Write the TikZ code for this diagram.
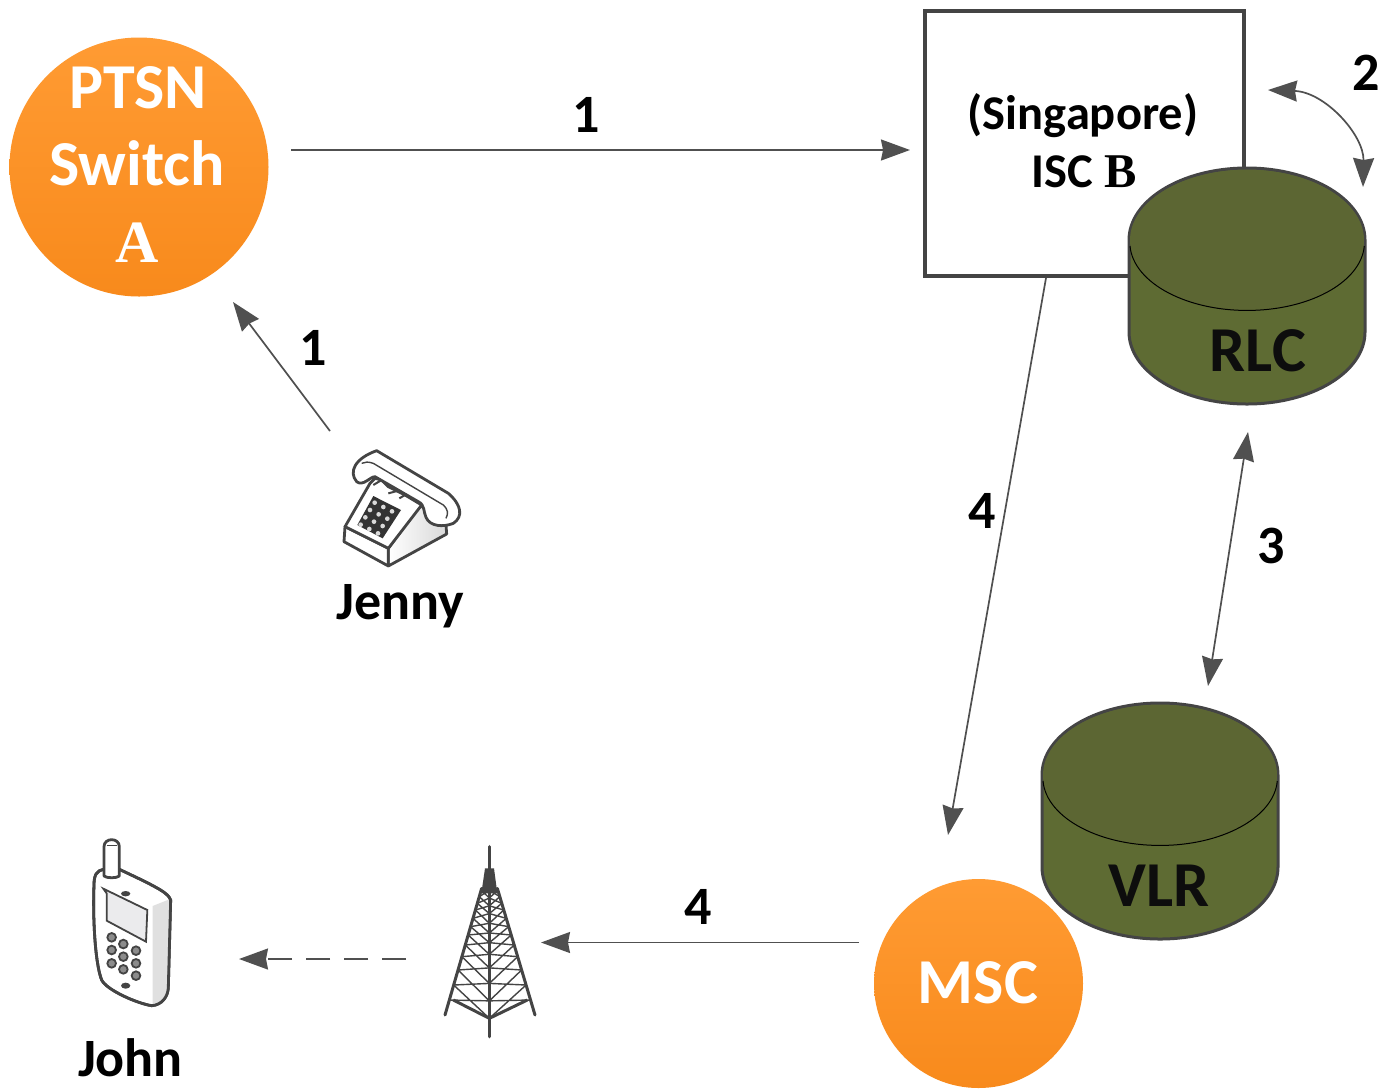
\documentclass[tikz,border=0pt]{standalone}
\usepackage{fontspec}
\setmainfont{Carlito}
\newfontfamily\serifletter{Liberation Serif}
\usetikzlibrary{arrows.meta,calc}
\definecolor{edgegrey}{HTML}{444444}
\definecolor{linegrey}{HTML}{505050}
\definecolor{drumfill}{HTML}{5E6B33}
\definecolor{drumtop}{HTML}{5C6633}
\definecolor{orangeA}{HTML}{FF9B33}
\definecolor{orangeB}{HTML}{F88A1C}
\tikzset{
  bigtext/.style={font=\bfseries\fontsize{64}{70}\selectfont,anchor=base,inner sep=0pt},
  midtext/.style={font=\bfseries\fontsize{48.5}{56}\selectfont,anchor=base,inner sep=0pt},
  nametext/.style={font=\bfseries\fontsize{54}{60}\selectfont,anchor=base,inner sep=0pt},
  numtext/.style={font=\bfseries\fontsize{54}{60}\selectfont,anchor=base,inner sep=0pt},
  hub/.style={circle,draw=none,top color=orangeA,bottom color=orangeB,inner sep=0pt},
  whitetext/.style={text=white},
  conn/.style={draw=linegrey,line width=1.7pt,-{Stealth[length=29pt,width=21pt,inset=2pt]}},
  dconn/.style={draw=linegrey,line width=1.7pt,{Stealth[length=29pt,width=21pt,inset=2pt]}-{Stealth[length=29pt,width=21pt,inset=2pt]}},
  iconline/.style={draw=edgegrey,line width=2.8pt,line join=round},
}
\newcommand{\drumshape}[2]{% centre x, top-ellipse centre y
  \path[fill=drumfill,draw=edgegrey,line width=3pt]
    (#1-118,#2) -- (#1-118,#2+92) arc[start angle=180,end angle=360,x radius=118pt,y radius=72pt]
    -- (#1+118,#2) arc[start angle=0,end angle=180,x radius=118pt,y radius=72pt] -- cycle;
  \path[fill=drumtop] (#1,#2) circle[x radius=117pt,y radius=70pt];
  \draw[black,line width=1pt] (#1-117,#2+6) arc[start angle=183,end angle=357,x radius=117.3pt,y radius=68pt];
}
\begin{document}
\begin{tikzpicture}[x=1pt,y=-1pt]
\useasboundingbox (0,0) rectangle (1383,1088);
\fill[white] (0,0) rectangle (1383,1088);

% ISC box and databases
\node[draw=edgegrey,line width=4.5pt,outer sep=0pt,minimum width=319pt,minimum height=265pt,inner sep=0pt,anchor=north west] (isc) at (925,11) {};
\node[midtext] (sing) at (1083,129) {(Singapore)};
\node[midtext] (iscb) at (1084,187) {ISC {\serifletter B}};
\drumshape{1247}{240}
\node[bigtext,text=black!95] (rlc) at (1258,371) {RLC};
\drumshape{1160}{775}
\node[bigtext,text=black!95] (vlr) at (1159,906) {VLR};

% Orange hubs
\node[hub,minimum size=259pt] (ptsn) at (139,167) {};
\node[bigtext,whitetext] (ptsnA) at (138,108) {PTSN};
\node[bigtext,whitetext] (ptsnB) at (137,185) {Switch};
\node[bigtext,whitetext,font=\bfseries\serifletter\fontsize{60}{60}\selectfont] (ptsnC) at (137,262) {A};
\node[hub,minimum size=209pt] (msc) at (978.5,983.5) {};
\node[bigtext,whitetext] (msct) at (978,1003) {MSC};

% Desk telephone
\begin{scope}[shift={(320pt,-430pt)},scale=1/3]
  \shade[left color=white,right color=black!15,iconline] (205,355) -- (205,408) -- (380,312) -- (378,285) -- (300,225) -- cycle;
  \path[fill=white,iconline] (75,290) -- (72,335) -- (205,408) -- (205,355) -- cycle;
  \path[fill=white,iconline] (75,290) -- (150,160) -- (165,145) -- (185,150) -- (205,170) -- (235,185) -- (255,195) -- (305,225) -- (205,355) -- cycle;
  \path[fill=white,iconline] (110,155) .. controls (85,125) and (105,85) .. (170,62)
     -- (385,190) .. controls (425,225) and (430,260) .. (400,280)
     .. controls (370,292) and (330,290) .. (318,262) .. controls (310,245) and (315,225) .. (295,215)
     -- (165,140) .. controls (150,140) and (130,170) .. (110,155) -- cycle;
  \draw[edgegrey,line width=1.4pt] (125,100) .. controls (135,95) and (145,95) .. (160,100) -- (370,225) .. controls (385,240) and (385,250) .. (378,265);
  \draw[edgegrey,line width=2pt] (160,165) -- (185,150) (205,190) -- (235,182) (238,205) -- (255,195);
  \fill[black!80] (160,198) -- (243,240) -- (188,325) -- (112,285) -- cycle;
  \foreach \i in {0,1,2} \foreach \j in {0,1,2,3}
    \fill[black!15] ({164+\i*26-\j*14},{218+\i*13+\j*22}) circle[radius=7];
\end{scope}
\node[nametext] (jenny) at (400.5,619) {Jenny};

% Mobile handset
\begin{scope}[shift={(60pt,-830pt)},scale=1/3]
  \path[fill=white,iconline] (130,118) .. controls (110,122) and (102,135) .. (102,165)
    .. controls (98,260) and (105,400) .. (125,450) .. controls (140,480) and (230,520) .. (275,527)
    .. controls (305,525) and (325,500) .. (325,470) -- (332,210)
    .. controls (325,190) and (300,175) .. (178,118) -- cycle;
  \fill[black!12] (278,228) -- (328,208) -- (322,480) .. controls (320,505) and (300,520) .. (278,523) -- cycle;
  \draw[edgegrey,line width=2.8pt,line join=round] (130,118) .. controls (110,122) and (102,135) .. (102,165)
    .. controls (98,260) and (105,400) .. (125,450) .. controls (140,480) and (230,520) .. (275,527)
    .. controls (305,525) and (325,500) .. (325,470) -- (332,210)
    .. controls (325,190) and (300,175) .. (178,118);
  \path[fill=white,iconline] (132,138) -- (132,50) .. controls (132,22) and (178,22) .. (178,50) -- (178,138)
    .. controls (170,145) and (140,145) .. (132,138) -- cycle;
  \draw[edgegrey,line width=1.2pt] (140,47) -- (170,47);
  \path[fill=blue!10!black!8,draw=edgegrey,line width=1.8pt] (130,176) -- (262,240) -- (258,335) -- (140,272) -- (140,190) -- cycle;
  \fill[edgegrey] (197,191) ellipse[x radius=14,y radius=8];
  \fill[edgegrey] (197,467) ellipse[x radius=14,y radius=9];
  \foreach \px/\py in {155/322,190/342,228/362,155/360,190/380,228/400,155/400,190/418,228/437}
    \path[fill=black!45,draw=edgegrey,line width=1.8pt] (\px,\py) circle[radius=13];
\end{scope}
\node[nametext] (john) at (130.5,1076) {John};

% Lattice tower
\begin{scope}[shift={(420pt,-835pt)},scale=1/3]
  \draw[edgegrey,line width=3.4pt,line cap=round] (208,35) -- (208,605);
  \fill[edgegrey] (195,100) -- (222,100) -- (232,175) -- (184,175) -- cycle;
  \draw[edgegrey,line width=3pt,line cap=round] (185,160) -- (75,540) (232,160) -- (345,540);
  \draw[edgegrey,line width=3pt,line join=round] (100,495) -- (208,550) -- (322,495);
  \foreach \ya/\yb in {165/185,185/205,205/225,225/250,250/275,275/300,300/330,330/365,365/405,405/450,450/495}{
    \pgfmathsetmacro{\lxa}{185-(\ya-160)*0.2895}
    \pgfmathsetmacro{\lxb}{185-(\yb-160)*0.2895}
    \pgfmathsetmacro{\rxa}{232+(\ya-160)*0.2974}
    \pgfmathsetmacro{\rxb}{232+(\yb-160)*0.2974}
    \pgfmathsetmacro{\cya}{\ya+(\ya-160)*0.164}
    \pgfmathsetmacro{\cyb}{\yb+(\yb-160)*0.164}
    \draw[edgegrey,line width=1.4pt] (\lxa,\ya) -- (208,\cyb) (208,\cya) -- (\lxb,\yb)
      (\rxa,\ya) -- (208,\cyb) (208,\cya) -- (\rxb,\yb);
  }
\end{scope}

% Connector end points
\coordinate (a1s) at (291,150);
\coordinate (a1e) at (910,150);
\coordinate (j1s) at (330,431);
\coordinate (j1e) at (233,302);
\coordinate (a2s) at (1268,90);
\coordinate (a2e) at (1363,187);
\coordinate (a3s) at (1248,432);
\coordinate (a3e) at (1208,686);
\coordinate (a4s) at (1046,278);
\coordinate (a4e) at (948,835);
\coordinate (b4s) at (859,942.5);
\coordinate (b4e) at (541,942.5);
\coordinate (ds) at (406,959);
\coordinate (de) at (239,959);

\draw[conn] (a1s) -- (a1e);
\draw[conn] (j1s) -- (j1e);
\draw[dconn] (a2s) .. controls (1325,92) and (1364,135) .. (a2e);
\draw[dconn] (a3s) -- (a3e);
\draw[conn] (a4s) -- (a4e);
\draw[conn] (b4s) -- (b4e);
\draw[conn,dash pattern=on 24pt off 14pt] (ds) -- (de);

% Step numbers
\node[numtext] (n1a) at (586,132) {1};
\node[numtext] (n1b) at (313,365) {1};
\node[numtext] (n2) at (1366,90) {2};
\node[numtext] (n3) at (1271.5,563) {3};
\node[numtext] (n4a) at (982,528) {4};
\node[numtext] (n4b) at (698.5,924) {4};
\end{tikzpicture}
\end{document}
